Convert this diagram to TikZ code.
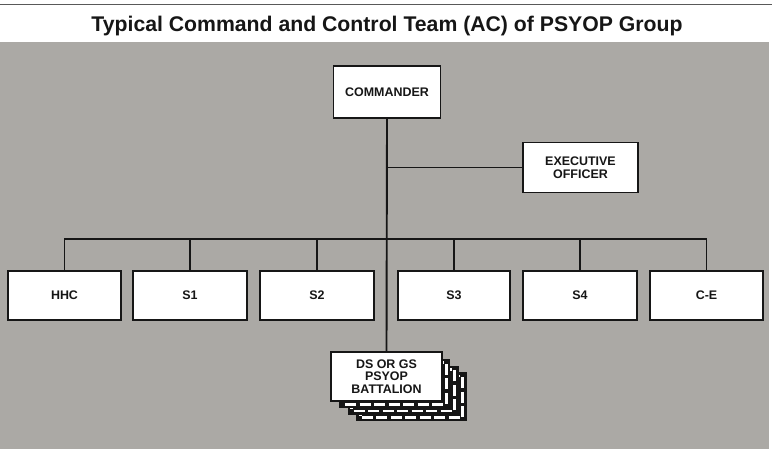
\documentclass[tikz,border=0pt]{standalone}
\usepackage{fontspec}
\setmainfont{Liberation Sans}
\definecolor{bg}{RGB}{171,169,165}
\definecolor{ink}{RGB}{22,22,22}
\begin{document}
\begin{tikzpicture}[x=1bp,y=-1bp,
  box/.style={draw=ink,line width=1.9bp,fill=white,minimum width=113bp,minimum height=49bp,
    inner sep=0pt,font=\fontsize{12.5}{12.5}\selectfont\bfseries,text=ink,align=center},
  conn/.style={draw=ink,line width=1.9bp},
  stackbox/.style={fill=ink},
  stackdash/.style={draw=white,line width=2.8bp,dash pattern=on 11bp off 3.5bp}]
\useasboundingbox (0,0) rectangle (776,449);
\fill[white] (0,0) rectangle (776,449);
\fill[bg] (0,42) rectangle (769,449);
\draw[gray!70!black,line width=1.2bp] (0,4.5) -- (772,4.5);
\node[font=\fontsize{21.3}{24}\selectfont\bfseries,text=ink,anchor=base,inner sep=0pt] (title) at (387,32)
  {Typical Command and Control Team (AC) of PSYOP Group};

\node[box,minimum width=107bp,minimum height=52bp] (cmd) at (387,92) {COMMANDER};
\node[box,minimum width=115bp,minimum height=50bp] (xo) at (580.5,167.5) {EXECUTIVE\\OFFICER};

\node[box] (hhc) at (64.5,295.5) {HHC};
\node[box,minimum width=114bp] (s1) at (190,295.5) {S1};
\node[box,minimum width=114bp] (s2) at (317,295.5) {S2};
\node[box,minimum width=112bp] (s3) at (454,295.5) {S3};
\node[box,minimum width=114bp] (s4) at (580,295.5) {S4};
\node[box] (ce) at (706.5,295.5) {C-E};

\foreach \k in {3,2,1}{
  \fill[stackbox,shift={(\k*8.3,\k*6.8)}] (331,352) rectangle (442,401);
  \draw[stackdash,shift={(\k*8.3,\k*6.8)}] (335.2,355.6) rectangle (437.8,397.4);
}
\node[box,minimum width=111bp] (ds) at (386.5,376.5) {DS OR GS\\PSYOP\\BATTALION};

\coordinate (bus) at (0,239);
\draw[conn] (cmd.south) -- (ds.north);
\draw[conn] (xo.west) -- (xo.west -| cmd.south);
\draw[conn] (hhc.north) |- (bus -| ce.north) -- (ce.north);
\foreach \n in {s1,s2,s3,s4} \draw[conn] (\n.north) -- (\n.north |- bus);
\end{tikzpicture}
\end{document}
